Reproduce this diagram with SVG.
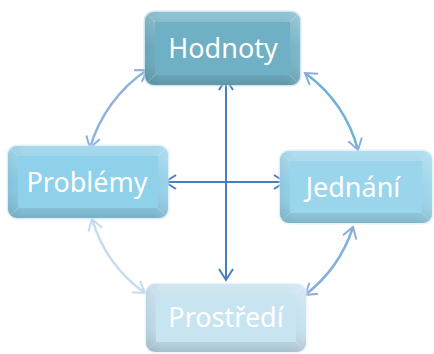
<svg xmlns="http://www.w3.org/2000/svg" width="434" height="354" viewBox="0 0 434 354">
  <defs>
    <style>
      .lbl { font-family: "Noto Sans", "Open Sans", sans-serif; font-size: 27px; fill: #ffffff; text-anchor: middle; }
      .glow { fill: none; stroke-width: 3; opacity: 0.55; }
      .facet { stroke: #ffffff; stroke-opacity: 0.25; stroke-width: 1; }
      .axis { fill: none; stroke: #4a7dbf; stroke-width: 2; marker-start: url(#headA); marker-end: url(#headA); }
      .arc { fill: none; stroke-width: 2.5; }
    </style>
    <marker id="headA" viewBox="-12 -8 14 16" markerWidth="14" markerHeight="16" refX="0" refY="0" orient="auto-start-reverse" markerUnits="userSpaceOnUse">
      <path d="M-11,-7 L0,0 L-11,7" fill="none" stroke="#4a7dbf" stroke-width="2"/>
    </marker>
    <marker id="headB" viewBox="-12 -8 14 16" markerWidth="14" markerHeight="16" refX="0" refY="0" orient="auto-start-reverse" markerUnits="userSpaceOnUse">
      <path d="M-11,-7 L0,0 L-11,7" fill="none" stroke="#8eacdc" stroke-width="2"/>
    </marker>
    <marker id="headC" viewBox="-12 -8 14 16" markerWidth="14" markerHeight="16" refX="0" refY="0" orient="auto-start-reverse" markerUnits="userSpaceOnUse">
      <path d="M-11,-7 L0,0 L-11,7" fill="none" stroke="#c6daf0" stroke-width="2"/>
    </marker>
    <linearGradient id="shadeV" x1="0" y1="0" x2="0" y2="1">
      <stop offset="0" stop-color="#ffffff" stop-opacity="0.25"/>
      <stop offset="0.5" stop-color="#ffffff" stop-opacity="0"/>
      <stop offset="1" stop-color="#000000" stop-opacity="0.14"/>
    </linearGradient>
    <linearGradient id="shadeH" x1="0" y1="0" x2="1" y2="0">
      <stop offset="0" stop-color="#000000" stop-opacity="0.06"/>
      <stop offset="0.1" stop-color="#000000" stop-opacity="0"/>
      <stop offset="0.9" stop-color="#ffffff" stop-opacity="0"/>
      <stop offset="1" stop-color="#ffffff" stop-opacity="0.12"/>
    </linearGradient>
  </defs>

  <!-- connectors -->
  <g id="connectors">
    <path class="arc" stroke="#8eb4de" marker-start="url(#headB)" marker-end="url(#headB)" d="M90,148 A140,140 0 0 1 147,70"/>
    <path class="arc" stroke="#6cb2d6" marker-start="url(#headB)" marker-end="url(#headB)" d="M305,73 A140,140 0 0 1 358,150"/>
    <path class="arc" stroke="#84b0dc" marker-start="url(#headB)" marker-end="url(#headB)" d="M353,227 A140,140 0 0 1 305,295"/>
    <path class="arc" stroke="#c6daf0" marker-start="url(#headC)" marker-end="url(#headC)" d="M145,293 A140,140 0 0 1 92,219"/>
    <path class="axis" d="M226,79 L226,280"/>
    <path class="axis" d="M165,182 L285,182"/>
  </g>

  <!-- Hodnoty -->
  <g id="hodnoty">
    <rect x="145" y="12" width="155" height="73" rx="9" class="glow" stroke="#a9d6e6"/>
    <rect x="145" y="12" width="155" height="73" rx="9" fill="#6eafc3"/>
    <rect x="145" y="12" width="155" height="73" rx="9" fill="url(#shadeV)"/>
    <rect x="145" y="12" width="155" height="73" rx="9" fill="url(#shadeH)"/>
    <rect x="155" y="22" width="135" height="53" fill="#6fb0c4"/>
    <path class="facet" d="M148,15 L155,22 M297,15 L290,22 M148,82 L155,75 M297,82 L290,75"/>
    <text x="223" y="58" class="lbl">Hodnoty</text>
  </g>

  <!-- Problémy -->
  <g id="problemy">
    <rect x="8" y="146" width="160" height="72" rx="9" class="glow" stroke="#c4e6f3"/>
    <rect x="8" y="146" width="160" height="72" rx="9" fill="#8ccde7"/>
    <rect x="8" y="146" width="160" height="72" rx="9" fill="url(#shadeV)"/>
    <rect x="8" y="146" width="160" height="72" rx="9" fill="url(#shadeH)"/>
    <rect x="18" y="156" width="140" height="52" fill="#8fd0ea"/>
    <path class="facet" d="M11,149 L18,156 M165,149 L158,156 M11,215 L18,208 M165,215 L158,208"/>
    <text x="87" y="192" class="lbl">Problémy</text>
  </g>

  <!-- Jednání -->
  <g id="jednani">
    <rect x="280" y="151" width="152" height="72" rx="9" class="glow" stroke="#c8e8f4"/>
    <rect x="280" y="151" width="152" height="72" rx="9" fill="#96d3ea"/>
    <rect x="280" y="151" width="152" height="72" rx="9" fill="url(#shadeV)"/>
    <rect x="280" y="151" width="152" height="72" rx="9" fill="url(#shadeH)"/>
    <rect x="290" y="161" width="132" height="52" fill="#9ad5ec"/>
    <path class="facet" d="M283,154 L290,161 M429,154 L422,161 M283,220 L290,213 M429,220 L422,213"/>
    <text x="353" y="197" class="lbl">Jednání</text>
  </g>

  <!-- Prostředí -->
  <g id="prostredi">
    <rect x="146" y="284" width="160" height="68" rx="9" class="glow" stroke="#e0eff7"/>
    <rect x="146" y="284" width="160" height="68" rx="9" fill="#c3e0ee"/>
    <rect x="146" y="284" width="160" height="68" rx="9" fill="url(#shadeV)"/>
    <rect x="146" y="284" width="160" height="68" rx="9" fill="url(#shadeH)"/>
    <rect x="156" y="294" width="140" height="48" fill="#c8e4f1"/>
    <path class="facet" d="M149,287 L156,294 M303,287 L296,294 M149,349 L156,342 M303,349 L296,342"/>
    <text x="226" y="327" class="lbl">Prostředí</text>
  </g>
</svg>
